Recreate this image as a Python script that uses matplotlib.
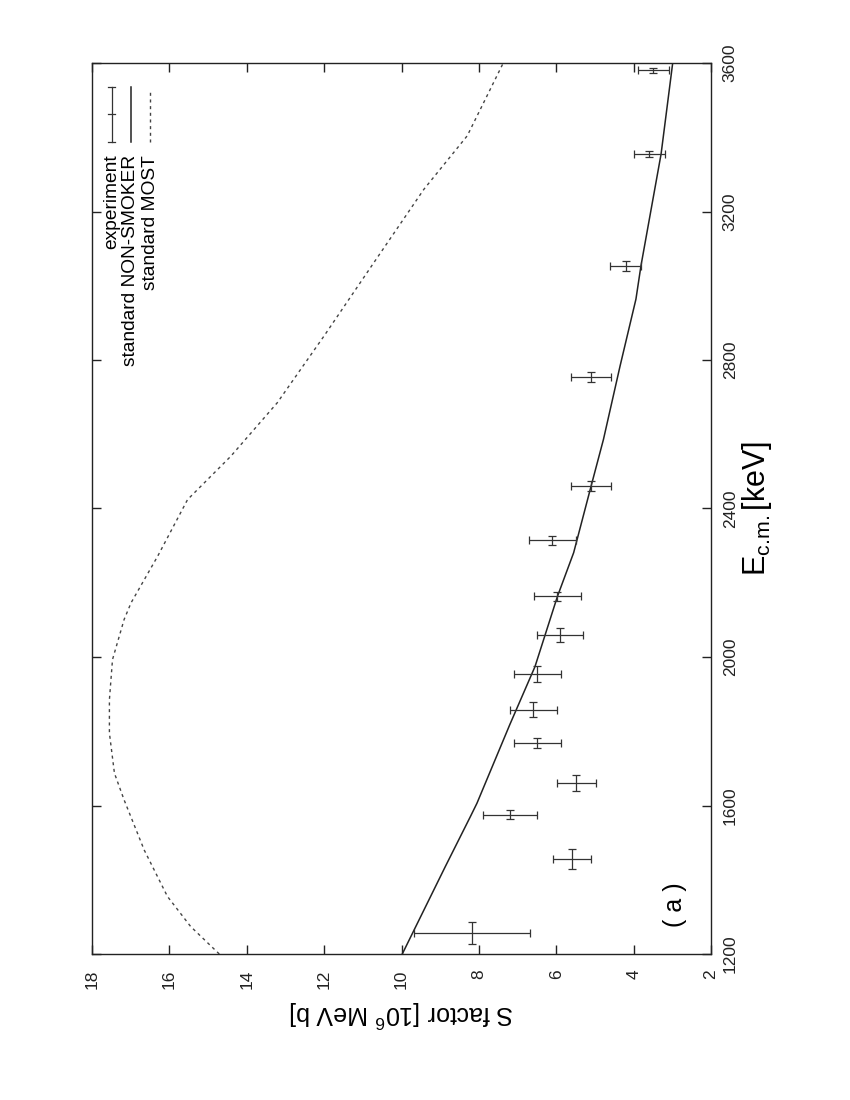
import matplotlib
matplotlib.use("Agg")
import matplotlib.pyplot as plt

plt.rcParams['font.family'] = ['Liberation Sans', 'DejaVu Sans']
plt.rcParams['mathtext.fontset'] = 'custom'
plt.rcParams['mathtext.rm'] = 'Liberation Sans'
plt.rcParams['mathtext.it'] = 'Liberation Sans:italic'

# experimental S factors (E in keV, S in 10^6 MeV b)
exp_e = [1257, 1456, 1575, 1661, 1769, 1858, 1955, 2060, 2163, 2314, 2460, 2755, 3054, 3355, 3580]
exp_e_err = [30, 27, 12, 22, 13, 20, 22, 19, 13, 11, 14, 13, 13, 8, 7]
exp_s = [8.17, 5.59, 7.19, 5.48, 6.49, 6.59, 6.49, 5.90, 5.97, 6.10, 5.10, 5.10, 4.20, 3.59, 3.49]
exp_s_err = [1.5, 0.49, 0.7, 0.5, 0.6, 0.6, 0.6, 0.6, 0.6, 0.61, 0.51, 0.51, 0.40, 0.41, 0.40]

# standard NON-SMOKER
ns_e = [1200, 1435, 1570, 1606, 1818, 1974, 2163, 2281, 2460, 2586, 2784, 2964, 3054, 3355, 3600]
ns_s = [9.98, 8.87, 8.22, 8.05, 7.20, 6.55, 5.97, 5.55, 5.10, 4.78, 4.35, 3.94, 3.81, 3.29, 2.99]

# standard MOST
most_e = [1200, 1274, 1355, 1480, 1615, 1687, 1795, 1885, 1993, 2101, 2146, 2272,
          2424, 2541, 2685, 2865, 3063, 3260, 3404, 3600]
most_s = [14.71, 15.45, 16.05, 16.65, 17.17, 17.42, 17.55, 17.55, 17.47, 17.17, 16.99, 16.30,
          15.53, 14.41, 13.21, 12.0, 10.71, 9.42, 8.30, 7.37]

s_ticks = [18, 16, 14, 12, 10, 8, 6, 4, 2]
e_ticks = [1200, 1600, 2000, 2400, 2800, 3200, 3600]
legend_labels = ["experiment", "standard NON-SMOKER", "standard MOST"]

fig = plt.figure(figsize=(8.5, 11), dpi=100)
# the whole gnuplot page is turned by 90 degrees: S runs horizontally, E vertically
ax = fig.add_axes([92 / 850, 1 - 954 / 1100, 619 / 850, 891 / 1100])

ax.plot(most_s, most_e, color='#444444', lw=1.0, ls=(0, (2.2, 2.6)))
ax.plot(ns_s, ns_e, color='#222222', lw=1.1)
ax.errorbar(exp_s, exp_e, xerr=exp_s_err, yerr=exp_e_err, fmt='none',
            ecolor='#333333', elinewidth=0.9, capsize=3.2, capthick=0.9)

ax.set_xlim(18, 2)
ax.set_ylim(1200, 3600)
ax.set_xticks(s_ticks)
ax.set_yticks(e_ticks)
ax.tick_params(direction='in', length=6.5, width=1, colors='#222222',
               top=True, bottom=True, left=True, right=True,
               labelleft=False, labelright=True, labelsize=12.5)
ax.tick_params(axis='x', pad=11)
ax.tick_params(axis='y', pad=8.5)
for lbl in ax.get_xticklabels():
    lbl.set_rotation(90)
for lbl in ax.get_yticklabels():
    lbl.set_rotation(90)
    lbl.set_va('center')
for sp in ax.spines.values():
    sp.set_linewidth(1.0)
    sp.set_color('#222222')

ax.set_xlabel('S factor [10$^6$ MeV b]', fontsize=18, rotation=180, va='center', ha='center')
ax.xaxis.set_label_coords(0.5, -0.0673)
ax.yaxis.set_label_position('right')
ax.set_ylabel('E$_{\\rm c.\\!m.}$[keV]', fontsize=22, rotation=90, va='center', ha='center')
ax.yaxis.set_label_coords(1.074, 0.5)

ax.text(2.93, 1332, '( a )', rotation=90, fontsize=18, ha='center', va='center')

# hand-made legend, turned like the rest of the page
lx = [0.0318, 0.0625, 0.0937]
y_lo, y_hi, y_mid = 0.9117, 0.9734, 0.9428
cap = 0.0053
tr = ax.transAxes
ax.plot([lx[0], lx[0]], [y_lo, y_hi], color='#333333', lw=0.9, transform=tr)
for yy in (y_lo, y_mid, y_hi):
    ax.plot([lx[0] - cap, lx[0] + cap], [yy, yy], color='#333333', lw=0.9, transform=tr)
ax.plot([lx[1], lx[1]], [y_lo, y_hi], color='#222222', lw=1.1, transform=tr)
ax.plot([lx[2], lx[2]], [y_lo, y_hi - 0.004], color='#444444', lw=1.0,
        ls=(0, (2.2, 2.6)), transform=tr)
for x, label in zip(lx, legend_labels):
    ax.text(x, 0.897, label, rotation=90, rotation_mode='anchor', ha='right', va='center',
            fontsize=13.8, transform=tr)

fig.savefig('out.png', dpi=100, facecolor='white')
